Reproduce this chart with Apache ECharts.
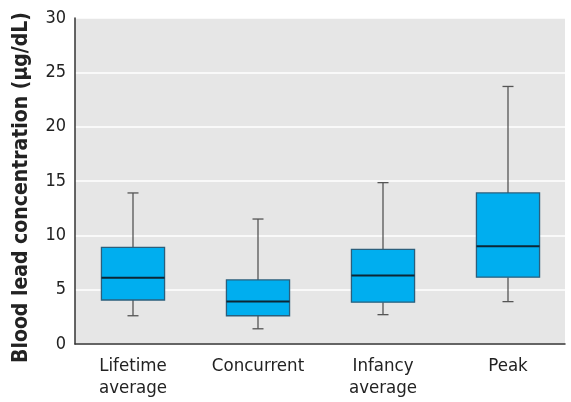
<!DOCTYPE html>
<html><head><meta charset="utf-8">
<script src="https://cdn.jsdelivr.net/npm/echarts@6/dist/echarts.min.js"></script>
<style>html,body{margin:0;padding:0;background:#fff}#c{width:571px;height:402px}</style>
</head><body><div id="c"></div>
<script>
const categories = ['Lifetime\naverage', 'Concurrent', 'Infancy\naverage', 'Peak'];
const whiskerLow = [2.6, 1.4, 2.7, 3.9];
const q1 = [4.05, 2.6, 3.85, 6.15];
const median = [6.1, 3.9, 6.3, 9.0];
const q3 = [8.9, 5.9, 8.7, 13.9];
const whiskerHigh = [13.9, 11.5, 14.85, 23.7];
const yTicks = [0, 5, 10, 15, 20, 25, 30];

const FONT = '"Liberation Sans Narrow", "DejaVu Sans Condensed", Arial, sans-serif';
const data = categories.map((c, i) => [i, whiskerLow[i], q1[i], median[i], q3[i], whiskerHigh[i]]);

const chart = echarts.init(document.getElementById('c'), null, {renderer: 'canvas'});
chart.setOption({
  animation: false,
  grid: [
    {left: 75, right: 6, top: 18, bottom: 58, show: true, backgroundColor: '#e6e6e6', borderWidth: 0,
     containLabel: false, outerBoundsMode: 'none'},
    {left: 70.5, right: 0.5, top: 18, bottom: 58, containLabel: false, outerBoundsMode: 'none'}
  ],
  xAxis: [
    {gridIndex: 0, type: 'value', min: 0, max: 1, axisLine: {show: true, onZero: false, lineStyle: {color: '#333', width: 1.5}},
     axisTick: {show: false}, axisLabel: {show: false}, splitLine: {show: false}},
    {gridIndex: 1, type: 'category', data: categories, axisLine: {show: false}, axisTick: {show: false},
     splitLine: {show: false},
     axisLabel: {color: '#222', fontFamily: FONT, fontSize: 18.5, lineHeight: 22, margin: 11}}
  ],
  yAxis: [
    {gridIndex: 0, type: 'value', min: 0, max: 30, interval: 5,
     name: 'Blood lead concentration (\u00b5g/dL)', nameLocation: 'middle', nameGap: 43,
     nameTextStyle: {fontFamily: FONT, fontWeight: 'bold', fontSize: 21, color: '#222', padding: [0, 13, 0, 0]},
     axisLine: {show: true, lineStyle: {color: '#333', width: 1.5}}, axisTick: {show: false},
     axisLabel: {color: '#222', fontFamily: FONT, fontSize: 18, margin: 9,
       formatter: v => yTicks.includes(v) ? String(v) : ''},
     splitLine: {show: true, lineStyle: {color: '#ffffff', width: 1.5}}},
    {gridIndex: 1, type: 'value', min: 0, max: 30, show: false, splitLine: {show: false}}
  ],
  series: [{
    type: 'custom', xAxisIndex: 1, yAxisIndex: 1,
    data: data,
    renderItem: function (params, api) {
      const x = api.value(0);
      const pLow = api.coord([x, api.value(1)]);
      const pQ1 = api.coord([x, api.value(2)]);
      const pMed = api.coord([x, api.value(3)]);
      const pQ3 = api.coord([x, api.value(4)]);
      const pHigh = api.coord([x, api.value(5)]);
      const bw = api.size([1, 0])[0] * 0.505;
      const hw = bw / 2, cap = 5.5, cx = pMed[0];
      const wStyle = {stroke: '#555', lineWidth: 1.3};
      return {type: 'group', children: [
        {type: 'line', shape: {x1: cx, y1: pHigh[1], x2: cx, y2: pQ3[1]}, style: wStyle},
        {type: 'line', shape: {x1: cx, y1: pQ1[1], x2: cx, y2: pLow[1]}, style: wStyle},
        {type: 'line', shape: {x1: cx - cap, y1: pHigh[1], x2: cx + cap, y2: pHigh[1]}, style: wStyle},
        {type: 'line', shape: {x1: cx - cap, y1: pLow[1], x2: cx + cap, y2: pLow[1]}, style: wStyle},
        {type: 'rect', shape: {x: cx - hw, y: pQ3[1], width: bw, height: pQ1[1] - pQ3[1]},
         style: {fill: '#00aeef', stroke: '#2b5f7c', lineWidth: 1.3}},
        {type: 'line', shape: {x1: cx - hw, y1: pMed[1], x2: cx + hw, y2: pMed[1]},
         style: {stroke: '#0d2635', lineWidth: 2}}
      ]};
    }
  }]
});
</script></body></html>
